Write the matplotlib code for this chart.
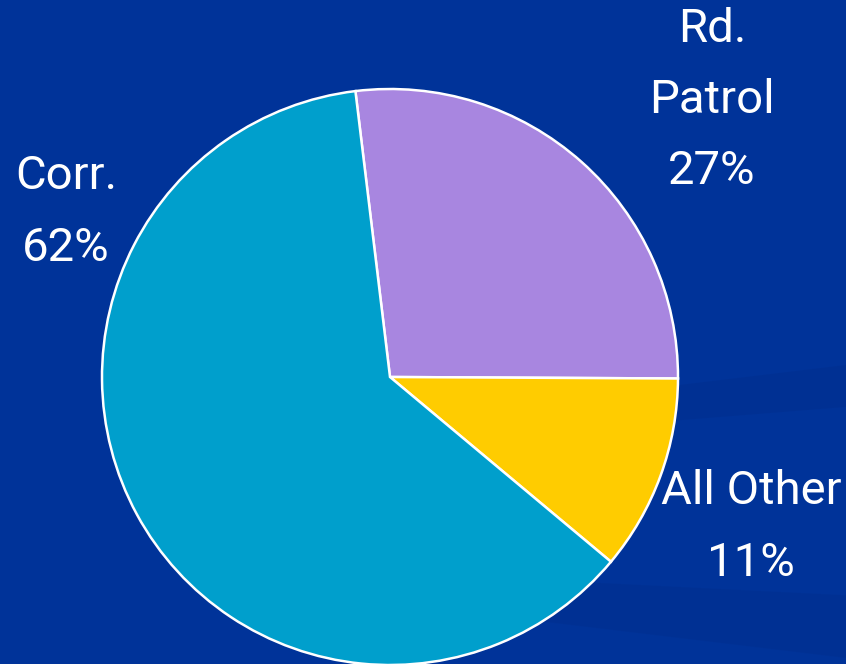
import matplotlib
matplotlib.use('Agg')
import matplotlib.pyplot as plt
import numpy as np

# данные
labels = ['Rd.\nPatrol\n27%', 'All Other\n11%', 'Corr.\n62%']
shares = [27, 11, 62]
colors = ['#A886E0', '#FFCC00', '#009FCC']

plt.rcParams['font.family'] = ['Roboto', 'DejaVu Sans']

fig = plt.figure(figsize=(8.46, 6.64), dpi=100)
fig.patch.set_facecolor('#003399')
ax = fig.add_axes([0, 0, 1, 1])
ax.set_facecolor('#003399')
ax.set_xlim(0, 846)
ax.set_ylim(0, 664)
ax.set_aspect('equal')
ax.axis('off')

# фоновые "волны"
xs = np.linspace(550, 846, 100)
ax.fill_between(xs, 664 - 400 + (xs - 550) * 0.12, 664 - 430 + (xs - 550) * 0.08,
                color='#002f8f', alpha=0.6, lw=0)
xs2 = np.linspace(450, 846, 100)
ax.fill_between(xs2, 664 - 575 - (xs2 - 450) * 0.05, 664 - 610 - (xs2 - 450) * 0.12,
                color='#002f8f', alpha=0.5, lw=0)

ax.pie(shares, colors=colors, startangle=96.9, counterclock=False,
       center=(390, 664 - 377), radius=288,
       wedgeprops=dict(edgecolor='white', linewidth=1.8))

# подписи
font = dict(color='white', fontsize=34, fontweight='normal',
            ha='center', va='center', linespacing=1.78)
ax.text(712, 664 - 100, labels[0], **font)
ax.text(751, 664 - 527, labels[1], **font)
ax.text(66, 664 - 212, labels[2], **font)

ax.set_xlim(0, 846)
ax.set_ylim(0, 664)
fig.savefig('out.png', dpi=100, facecolor=fig.get_facecolor())
